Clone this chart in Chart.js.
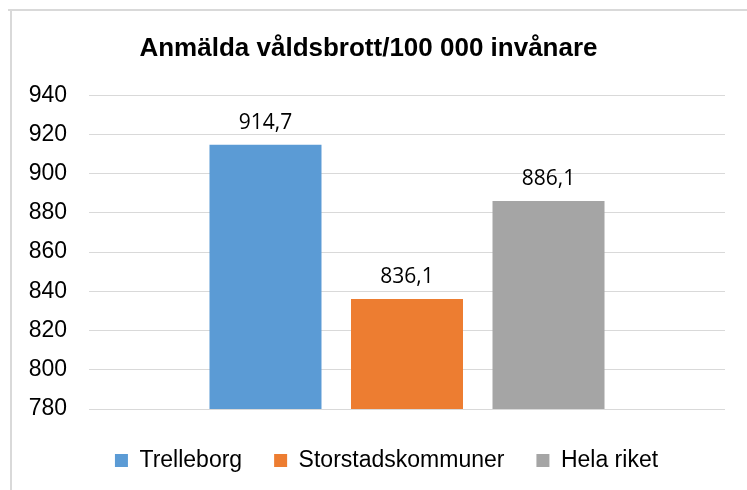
<!DOCTYPE html>
<html>
<head>
<meta charset="utf-8">
<script src="https://cdn.jsdelivr.net/npm/chart.js@4/dist/chart.umd.min.js"></script>
<style>
  html, body { margin: 0; padding: 0; background: #ffffff; }
  #wrap { width: 747px; height: 490px; position: relative; }
</style>
</head>
<body>
<div id="wrap"><canvas id="c" width="747" height="490"></canvas></div>
<script>
const titleText = 'Anmälda våldsbrott/100 000 invånare';
const categories = [''];
const seriesNames = ['Trelleborg', 'Storstadskommuner', 'Hela riket'];
const seriesValues = [914.7, 836.1, 886.1];
const seriesColors = ['#5B9BD5', '#ED7D31', '#A5A5A5'];
const yMin = 780, yMax = 940, yStep = 20;

const fmt = v => v.toFixed(1).replace('.', ',');

const frame = {
  id: 'frame',
  beforeDraw(chart) {
    const ctx = chart.ctx;
    ctx.save();
    ctx.strokeStyle = '#D9D9D9';
    ctx.lineWidth = 2;
    ctx.beginPath();
    ctx.moveTo(8, 10); ctx.lineTo(747, 10);
    ctx.moveTo(11, 9); ctx.lineTo(11, 490);
    ctx.stroke();
    ctx.restore();
  }
};

const labels = {
  id: 'valueLabels',
  afterDatasetsDraw(chart) {
    const ctx = chart.ctx;
    ctx.save();
    ctx.font = '21px "Open Sans"';
    ctx.fillStyle = '#000000';
    ctx.textAlign = 'center';
    ctx.textBaseline = 'alphabetic';
    chart.data.datasets.forEach((ds, i) => {
      const meta = chart.getDatasetMeta(i);
      meta.data.forEach((el, j) => {
        ctx.fillText(fmt(ds.data[j]), el.x, el.y - 16);
      });
    });
    ctx.restore();
  }
};

const legendShift = {
  id: 'legendShift',
  afterLayout(chart) {
    if (chart.legend) { chart.legend.left += 18; chart.legend.right += 18; }
  }
};

new Chart(document.getElementById('c'), {
  type: 'bar',
  data: {
    labels: categories,
    datasets: seriesNames.map((n, i) => ({
      label: n,
      data: [seriesValues[i]],
      backgroundColor: seriesColors[i],
      borderWidth: 0,
      categoryPercentage: 0.6675,
      barPercentage: 0.7915
    }))
  },
  options: {
    responsive: false,
    animation: false,
    events: [],
    layout: { padding: { left: 12, right: 22, top: 23, bottom: 8 } },
    plugins: {
      title: {
        display: true,
        text: titleText,
        color: '#000000',
        font: { family: '"Liberation Sans", Arial, sans-serif', size: 26, weight: 'bold' },
        padding: { top: 10, bottom: 31 }
      },
      legend: {
        position: 'bottom',
        labels: {
          color: '#000000',
          font: { family: '"Liberation Sans", Arial, sans-serif', size: 23 },
          boxWidth: 13,
          boxHeight: 13,
          padding: 32
        }
      },
      tooltip: { enabled: false }
    },
    scales: {
      x: {
        ticks: { display: false },
        grid: { display: false },
        border: { display: false },
        afterFit(s) { s.height = 8; }
      },
      y: {
        min: yMin,
        max: yMax,
        ticks: {
          stepSize: yStep,
          color: '#000000',
          padding: 22,
          font: { family: '"Liberation Sans", Arial, sans-serif', size: 23 }
        },
        grid: { color: '#D9D9D9', lineWidth: 1, drawTicks: false },
        border: { display: false },
        afterFit(s) { s.width = 77; }
      }
    }
  },
  plugins: [frame, labels, legendShift]
});
</script>
</body>
</html>
